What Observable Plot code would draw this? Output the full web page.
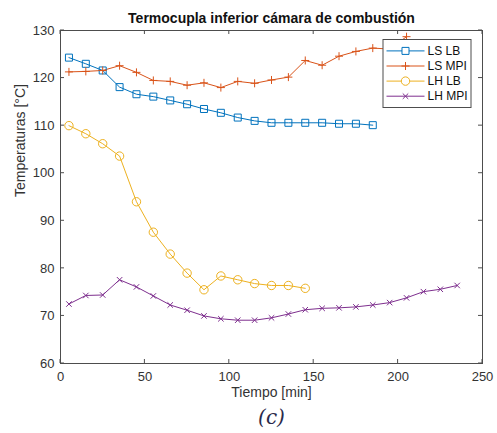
<!DOCTYPE html>
<html><head><meta charset="utf-8">
<script src="https://cdn.jsdelivr.net/npm/d3@7"></script>
<script src="https://cdn.jsdelivr.net/npm/@observablehq/plot@0.6"></script>
<style>body{margin:0;background:#fff;}</style>
</head><body><div id="chart"></div>
<script>
const minutes = [5,15,25,35,45,55,65,75,85,95,105,115,125,135,145,155,165,175,185,195,205,215,225,235];
const seriesNames = ["LS LB", "LS MPI", "LH LB", "LH MPI"];
const seriesColors = ["#0072BD", "#D95319", "#EDB120", "#7E2F8E"];
const seriesSymbols = ["square", "plus", "circle", "times"];
const lsLB  = [124.3,123.0,121.6,118.1,116.6,116.1,115.3,114.5,113.5,112.7,111.7,111.0,110.6,110.6,110.6,110.6,110.4,110.4,110.1];
const lsMPI = [121.3,121.4,121.6,122.6,121.2,119.5,119.3,118.5,119.0,118.0,119.3,118.9,119.6,120.2,123.7,122.7,124.6,125.6,126.3,126.1,128.7];
const lhLB  = [110.0,108.3,106.2,103.6,94.0,87.6,83.0,79.0,75.5,78.4,77.6,76.8,76.4,76.4,75.8];
const lhMPI = [72.5,74.3,74.4,77.6,76.1,74.2,72.3,71.2,70.0,69.4,69.1,69.1,69.6,70.4,71.3,71.6,71.7,71.9,72.3,72.8,73.8,75.1,75.6,76.4];
const xTicks = [0,50,100,150,200,250];
const yTicks = [60,70,80,90,100,110,120,130];
const titleText = "Termocupla inferior cámara de combustión";
const xLabel = "Tiempo [min]";
const yLabel = "Temperaturas [°C]";
const captionText = "(c)";

const values = [lsLB, lsMPI, lhLB, lhMPI];
const markerR = [3.95, 2.7, 4.2, 2.6];
const rows = values.flatMap((vals, i) => vals.map((v, j) => ({series: seriesNames[i], t: minutes[j], temp: v})));

const font = "'Liberation Sans', Arial, Helvetica, sans-serif";
const plot = Plot.plot({
  width: 497, height: 433,
  marginLeft: 60, marginRight: 15, marginTop: 30, marginBottom: 70,
  style: {fontFamily: font, fontSize: "13px", color: "#262626", background: "white", overflow: "visible"},
  x: {domain: [0, 250]},
  y: {domain: [60, 130]},
  color: {domain: seriesNames, range: seriesColors},
  marks: [
    Plot.axisX(xTicks, {tickSize: 0, tickPadding: 8, label: null, fontSize: 13, fill: "#333"}),
    Plot.axisY(yTicks, {tickSize: 0, tickPadding: 6, label: null, fontSize: 13, fill: "#333"}),
    Plot.line(rows, {x: "t", y: "temp", z: "series", stroke: "series", strokeWidth: 1}),
    ...seriesNames.map((s, i) => Plot.dot(rows.filter(d => d.series === s), {
      x: "t", y: "temp", symbol: seriesSymbols[i], r: markerR[i], stroke: seriesColors[i], fill: "none", strokeWidth: 1
    })),
    Plot.frame({stroke: "#4d4d4d", strokeWidth: 1}),
    Plot.text([titleText], {text: d => d, frameAnchor: "top", lineAnchor: "middle", dy: -12, fontWeight: "bold", fontSize: 14, fill: "#111"}),
    Plot.text([xLabel], {text: d => d, frameAnchor: "bottom", lineAnchor: "middle", dy: 29, fontSize: 14, fill: "#333"}),
    Plot.text([yLabel], {text: d => d, frameAnchor: "left", lineAnchor: "middle", dx: -40, rotate: -90, fontSize: 14, fill: "#333"}),
    Plot.text([captionText], {text: d => d, frameAnchor: "bottom", lineAnchor: "middle", dy: 54, fontSize: 20, fontStyle: "italic", fontFamily: "'DejaVu Serif', 'Liberation Serif', serif", fill: "#2a2a4a"})
  ]
});
document.getElementById("chart").appendChild(plot);

// inward ticks on all four sides
const sx = plot.scale("x"), sy = plot.scale("y");
const [fx0, fx1] = sx.range, [fyB, fyT] = sy.range;
const svg = d3.select(plot);
const tk = svg.append("g").attr("stroke", "#4d4d4d").attr("stroke-width", 1);
const L = 4;
xTicks.forEach(v => {
  const px = sx.apply(v);
  tk.append("line").attr("x1", px).attr("x2", px).attr("y1", fyB).attr("y2", fyB - L);
  tk.append("line").attr("x1", px).attr("x2", px).attr("y1", fyT).attr("y2", fyT + L);
});
yTicks.forEach(v => {
  const py = sy.apply(v);
  tk.append("line").attr("y1", py).attr("y2", py).attr("x1", fx0).attr("x2", fx0 + L);
  tk.append("line").attr("y1", py).attr("y2", py).attr("x1", fx1).attr("x2", fx1 - L);
});

// legend box
const lw = 88, lh = 68;
const lx = fx1 - 11 - lw, ly = fyT + 9.5;
const lg = svg.append("g").attr("transform", `translate(${lx},${ly})`).attr("text-anchor", "start");
lg.append("rect").attr("width", lw).attr("height", lh).attr("fill", "white").attr("stroke", "#4d4d4d").attr("stroke-width", 1);
const symMap = {square: d3.symbolSquare, plus: d3.symbolPlus, circle: d3.symbolCircle, times: d3.symbolTimes};
seriesNames.forEach((s, i) => {
  const cy = 11.4 + i * 15.1;
  const row = lg.append("g").attr("transform", `translate(0,${cy})`);
  row.append("line").attr("x1", 3.5).attr("x2", 41.5).attr("y1", 0).attr("y2", 0).attr("stroke", seriesColors[i]).attr("stroke-width", 1);
  row.append("path").attr("transform", "translate(22.5,0)")
    .attr("d", d3.symbol(symMap[seriesSymbols[i]], Math.PI * markerR[i] * markerR[i])())
    .attr("fill", "white").attr("stroke", seriesColors[i]).attr("stroke-width", 1);
  row.append("text").attr("x", 44.5).attr("y", 0).attr("dy", "0.35em").attr("font-size", 12)
    .attr("text-anchor", "start").attr("font-family", font).attr("fill", "#111").text(s);
});
</script>
</body></html>
